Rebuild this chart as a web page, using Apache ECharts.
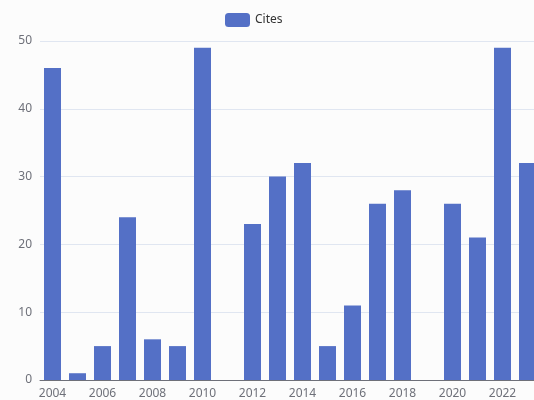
<!DOCTYPE html>
<html>
<head>
<meta charset="utf-8">
<script src="https://cdn.jsdelivr.net/npm/echarts@6/dist/echarts.min.js"></script>
<style>
html,body{margin:0;padding:0;overflow:hidden;background:#fcfcfc;}
#c{width:540px;height:400px;}
</style>
</head>
<body>
<div id="c"></div>
<script>
const years = ['2004','2005','2006','2007','2008','2009','2010','2011','2012','2013','2014','2015','2016','2017','2018','2019','2020','2021','2022','2023'];
const cites = [46,1,5,24,6,5,49,0,23,30,32,5,11,26,28,0,26,21,49,32];
const seriesName = 'Cites';

const chart = echarts.init(document.getElementById('c'));
chart.setOption({
  backgroundColor: '#fcfcfc',
  textStyle: { fontFamily: 'Noto Sans' },
  legend: {
    top: 8, left: 220,
    itemWidth: 25, itemHeight: 14,
    textStyle: { color: '#333', fontSize: 12 },
    data: [seriesName]
  },
  grid: { left: 40, right: 0, top: 41, bottom: 20, containLabel: false },
  xAxis: {
    type: 'category',
    data: years,
    axisLabel: { interval: 1, color: '#6e7079', fontSize: 12 },
    axisLine: { lineStyle: { color: '#6e7079' } }
  },
  yAxis: {
    type: 'value',
    min: 0, max: 50, interval: 10,
    axisLabel: { color: '#6e7079', fontSize: 12 },
    splitLine: { lineStyle: { color: '#e0e6f1' } }
  },
  series: [{
    name: seriesName,
    type: 'bar',
    data: cites,
    barWidth: '68%',
    itemStyle: { color: '#5470c6' }
  }]
});
</script>
</body>
</html>
